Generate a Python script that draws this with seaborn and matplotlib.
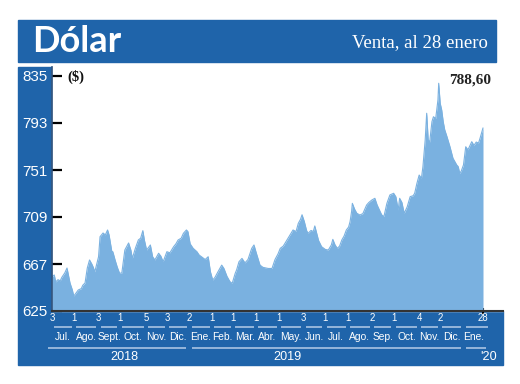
import matplotlib
matplotlib.use("Agg")
import matplotlib.pyplot as plt
import matplotlib.transforms as mtransforms
from matplotlib import font_manager
from matplotlib.patches import Rectangle
import seaborn as sns
import pandas as pd

# ---------------- data ----------------
dates = [
    "2018-07-03", "2018-07-06", "2018-07-08", "2018-07-11", "2018-07-14", "2018-07-16",
    "2018-07-20", "2018-07-23", "2018-07-24", "2018-07-27", "2018-07-30", "2018-08-01",
    "2018-08-04", "2018-08-07", "2018-08-11", "2018-08-13", "2018-08-16", "2018-08-19",
    "2018-08-22", "2018-08-25", "2018-08-27", "2018-08-29", "2018-09-03", "2018-09-05",
    "2018-09-09", "2018-09-12", "2018-09-15", "2018-09-17", "2018-09-21", "2018-09-22",
    "2018-09-25", "2018-09-28", "2018-10-01", "2018-10-04", "2018-10-08", "2018-10-13",
    "2018-10-16", "2018-10-18", "2018-10-22", "2018-10-26", "2018-10-29", "2018-11-01",
    "2018-11-03", "2018-11-06", "2018-11-11", "2018-11-14", "2018-11-17", "2018-11-22",
    "2018-11-25", "2018-11-28", "2018-12-03", "2018-12-07", "2018-12-12", "2018-12-15",
    "2018-12-18", "2018-12-22", "2018-12-25", "2018-12-29", "2018-12-31", "2019-01-03",
    "2019-01-07", "2019-01-12", "2019-01-15", "2019-01-18", "2019-01-23", "2019-01-27",
    "2019-01-30", "2019-02-02", "2019-02-05", "2019-02-09", "2019-02-14", "2019-02-17",
    "2019-02-21", "2019-02-25", "2019-02-28", "2019-03-04", "2019-03-06", "2019-03-09",
    "2019-03-13", "2019-03-17", "2019-03-21", "2019-03-26", "2019-03-29", "2019-04-01",
    "2019-04-06", "2019-04-10", "2019-04-17", "2019-04-22", "2019-04-26", "2019-04-30",
    "2019-05-03", "2019-05-07", "2019-05-12", "2019-05-16", "2019-05-20", "2019-05-24",
    "2019-05-27", "2019-05-30", "2019-06-01", "2019-06-04", "2019-06-07", "2019-06-09",
    "2019-06-13", "2019-06-16", "2019-06-18", "2019-06-23", "2019-06-27", "2019-07-02",
    "2019-07-06", "2019-07-10", "2019-07-12", "2019-07-15", "2019-07-18", "2019-07-21",
    "2019-07-24", "2019-07-27", "2019-07-30", "2019-08-02", "2019-08-04", "2019-08-06",
    "2019-08-07", "2019-08-10", "2019-08-13", "2019-08-17", "2019-08-21", "2019-08-26",
    "2019-08-29", "2019-09-02", "2019-09-06", "2019-09-09", "2019-09-13", "2019-09-15",
    "2019-09-18", "2019-09-22", "2019-09-26", "2019-10-01", "2019-10-04", "2019-10-07",
    "2019-10-09", "2019-10-12", "2019-10-15", "2019-10-19", "2019-10-23", "2019-10-27",
    "2019-10-29", "2019-11-01", "2019-11-04", "2019-11-07", "2019-11-09", "2019-11-12",
    "2019-11-14", "2019-11-16", "2019-11-18", "2019-11-21", "2019-11-23", "2019-11-26",
    "2019-11-29", "2019-11-30", "2019-12-02", "2019-12-04", "2019-12-06", "2019-12-08",
    "2019-12-11", "2019-12-15", "2019-12-19", "2019-12-24", "2019-12-26", "2019-12-28",
    "2019-12-30", "2020-01-02", "2020-01-05", "2020-01-08", "2020-01-10", "2020-01-13",
    "2020-01-16", "2020-01-19", "2020-01-22", "2020-01-24", "2020-01-26", "2020-01-28",
]
values = [
    655.6, 657.2, 651.0, 653.0, 652.0, 655.0,
    659.0, 663.4, 660.0, 650.0, 644.0, 638.4,
    641.0, 643.8, 645.0, 648.0, 650.0, 663.4,
    670.6, 667.0, 664.0, 660.0, 673.5, 691.4,
    694.7, 693.0, 697.4, 693.0, 676.8, 678.0,
    670.6, 664.0, 658.7, 659.0, 679.5, 685.8,
    679.5, 672.0, 681.0, 688.5, 690.0, 696.8,
    688.5, 679.5, 684.0, 673.5, 670.6, 676.6,
    674.0, 669.0, 678.0, 677.0, 682.5, 685.0,
    688.5, 690.0, 694.4, 697.4, 696.0, 685.0,
    681.0, 678.0, 675.0, 673.5, 671.0, 673.5,
    660.0, 652.7, 655.0, 660.0, 666.0, 663.0,
    656.0, 651.2, 649.7, 658.7, 662.0, 669.0,
    672.0, 668.0, 671.0, 681.0, 684.0, 677.0,
    666.0, 664.0, 663.0, 663.0, 671.0, 676.0,
    681.0, 683.0, 688.5, 693.0, 697.4, 696.0,
    703.3, 707.0, 711.0, 705.0, 697.0, 694.4,
    697.0, 696.0, 701.0, 688.0, 682.5, 680.0,
    679.5, 684.0, 689.0, 684.0, 681.0, 683.0,
    688.5, 692.0, 697.4, 700.0, 705.0, 714.0,
    721.2, 716.0, 712.3, 710.8, 712.0, 719.7,
    722.0, 724.2, 725.7, 719.7, 713.8, 711.0,
    709.3, 721.2, 728.7, 730.2, 727.0, 715.3,
    725.7, 722.0, 712.3, 718.0, 727.2, 728.0,
    730.2, 739.1, 746.5, 743.6, 754.0, 777.8,
    801.7, 777.8, 776.0, 794.2, 798.6, 797.0,
    813.6, 828.5, 810.6, 804.6, 794.2, 787.0,
    780.8, 771.8, 761.5, 755.5, 754.0, 748.0,
    750.0, 755.5, 771.8, 769.0, 772.0, 776.3,
    773.0, 776.0, 775.0, 779.2, 784.0, 788.6,
]
y_ticks = [625, 667, 709, 751, 793, 835]

# month boundaries (first trading day) with their day labels
month_start = ["2018-07-03", "2018-08-01", "2018-09-03", "2018-10-01", "2018-11-05",
               "2018-12-03", "2019-01-02", "2019-02-01", "2019-03-01", "2019-04-01",
               "2019-05-01", "2019-06-03", "2019-07-01", "2019-08-01", "2019-09-02",
               "2019-10-01", "2019-11-04", "2019-12-02", "2020-01-02"]
day_labels = ["3", "1", "3", "1", "5", "3", "2", "1", "1", "1", "1", "3", "1", "1",
              "2", "1", "4", "2", ""]
month_names = ["Jul.", "Ago.", "Sept.", "Oct.", "Nov.", "Dic.", "Ene.", "Feb.", "Mar.",
               "Abr.", "May.", "Jun.", "Jul.", "Ago.", "Sep.", "Oct.", "Nov.", "Dic.", "Ene."]
last_date = "2020-01-28"
last_label = "28"
years = ["2018", "2019", "'20"]

title = "Dólar"
subtitle = "Venta, al 28 enero"
unit = "($)"

# ---------------- style ----------------
DARK = "#1f64aa"
FILL = "#7ab1e0"
LINE = "#a9c3e3"
W, H = 520, 384

sns.set_theme(style="white")
plt.rcParams["font.family"] = ["DejaVu Sans"]

available = {f.name for f in font_manager.fontManager.ttflist}
if "Liberation Sans Narrow" in available:
    NARROW = ["Liberation Sans Narrow", "DejaVu Sans"]
    NSCALE = 1.0
else:
    NARROW = ["Liberation Sans", "DejaVu Sans"]
    NSCALE = 0.87
SERIF = ["Liberation Serif", "DejaVu Serif"]

def fx(px):
    return px / W

def fy(py):
    return 1 - py / H

fig = plt.figure(figsize=(W / 100, H / 100), dpi=100)
fig.patch.set_facecolor("white")

# background bars (drawn beneath the axes)
for (x1, y1, x2, y2) in [(18, 20, 496, 62), (18, 67, 52, 311), (18, 311, 503, 365)]:
    fig.patches.append(Rectangle((fx(x1), fy(y2)), fx(x2) - fx(x1), fy(y1) - fy(y2),
                                 transform=fig.transFigure, color=DARK, zorder=-5))

fig.text(fx(32), fy(41), title, color="white", fontsize=26, fontweight="bold",
         family=["Lato", "DejaVu Sans"], ha="left", va="center")
fig.text(fx(488), fy(43), subtitle, color="white", fontsize=13.5,
         family=SERIF, ha="right", va="center")

# plot axes
ax = fig.add_axes([fx(52), fy(311), fx(503) - fx(52), fy(67) - fy(311)])
ax.set_zorder(1)
ax.patch.set_alpha(0)
fig.patches.append(Rectangle((fx(52), fy(311)), fx(503) - fx(52), fy(67) - fy(311),
                             transform=fig.transFigure, color="white", zorder=-4))
df = pd.DataFrame({"fecha": pd.to_datetime(dates), "valor": values})
x0 = pd.Timestamp("2018-07-03")
px_per_day = (483 - 52) / (pd.Timestamp(last_date) - x0).days
ax.set_xlim(x0, x0 + pd.Timedelta(days=(503 - 52) / px_per_day))
ax.set_ylim(625, 835 + (76 - 67) / ((311 - 76) / 210))

ax.fill_between(df["fecha"], df["valor"], 625, color=FILL, lw=0, zorder=1)
sns.lineplot(data=df, x="fecha", y="valor", ax=ax, color=FILL, linewidth=0.8, zorder=2)
ax.set_xlabel("")
ax.set_ylabel("")

for s in ["top", "right"]:
    ax.spines[s].set_visible(False)
ax.spines["left"].set_color("#2b4f7a")
ax.spines["left"].set_linewidth(1.2)
ax.spines["bottom"].set_color("#333333")
ax.spines["bottom"].set_linewidth(1.5)

ax.set_yticks(y_ticks)
ax.set_yticklabels([str(v) for v in y_ticks], color="white", fontsize=12.5 * NSCALE, family=NARROW)
ax.tick_params(axis="y", direction="in", length=7.5, width=1.6, color="black", pad=3, left=True)

ax.set_xticks([pd.Timestamp(last_date)])
ax.set_xticklabels([""])
ax.tick_params(axis="x", direction="inout", length=4, width=1.5, color="black", bottom=True)
ax.grid(False)

# bottom date band
tr = mtransforms.blended_transform_factory(ax.transData, fig.transFigure)
ms = pd.to_datetime(month_start)
gap = pd.Timedelta(days=3)
for i, d in enumerate(ms):
    if day_labels[i]:
        ax.text(d, fy(318), day_labels[i], transform=tr, color="white", fontsize=8 * NSCALE,
                family=NARROW, ha="center", va="center", clip_on=False)
    end = ms[i + 1] if i + 1 < len(ms) else pd.Timestamp(last_date) + pd.Timedelta(days=9)
    ax.plot([d + gap, end - gap], [fy(327), fy(327)], transform=tr, color=LINE,
            lw=1.2, clip_on=False, solid_capstyle="butt")
    mid_end = ms[i + 1] if i + 1 < len(ms) else pd.Timestamp(last_date)
    ax.text(d + (mid_end - d) / 2, fy(337), month_names[i], transform=tr, color="white",
            fontsize=8.5 * NSCALE, family=NARROW, ha="center", va="center", clip_on=False)
ax.text(pd.Timestamp(last_date), fy(318), last_label, transform=tr, color="white",
        fontsize=8 * NSCALE, family=NARROW, ha="center", va="center", clip_on=False)

year_spans = [(pd.Timestamp("2018-06-28"), pd.Timestamp("2018-12-28")),
              (pd.Timestamp("2019-01-05"), pd.Timestamp("2019-12-30")),
              (pd.Timestamp("2020-01-06"), pd.Timestamp("2020-02-01"))]
year_pos = [pd.Timestamp("2018-10-08"), pd.Timestamp("2019-05-12"), pd.Timestamp("2020-02-04")]
for (a, b), yl, yp in zip(year_spans, years, year_pos):
    ax.plot([a, b], [fy(348), fy(348)], transform=tr, color=LINE, lw=1.2,
            clip_on=False, solid_capstyle="butt")
    ax.text(yp, fy(357), yl, transform=tr, color="white", fontsize=10.5 * NSCALE,
            family=NARROW, ha="center", va="center", clip_on=False)

# annotations
fig.text(fx(67), fy(77), unit, color="#111111", fontsize=10.5, fontweight="bold",
         family=SERIF, ha="left", va="center")
fig.text(fx(491), fy(80), f"{values[-1]:.2f}".replace(".", ","), color="#222222",
         fontsize=11, fontweight="bold", family=SERIF, ha="right", va="center")

fig.savefig("out.png", dpi=100)
